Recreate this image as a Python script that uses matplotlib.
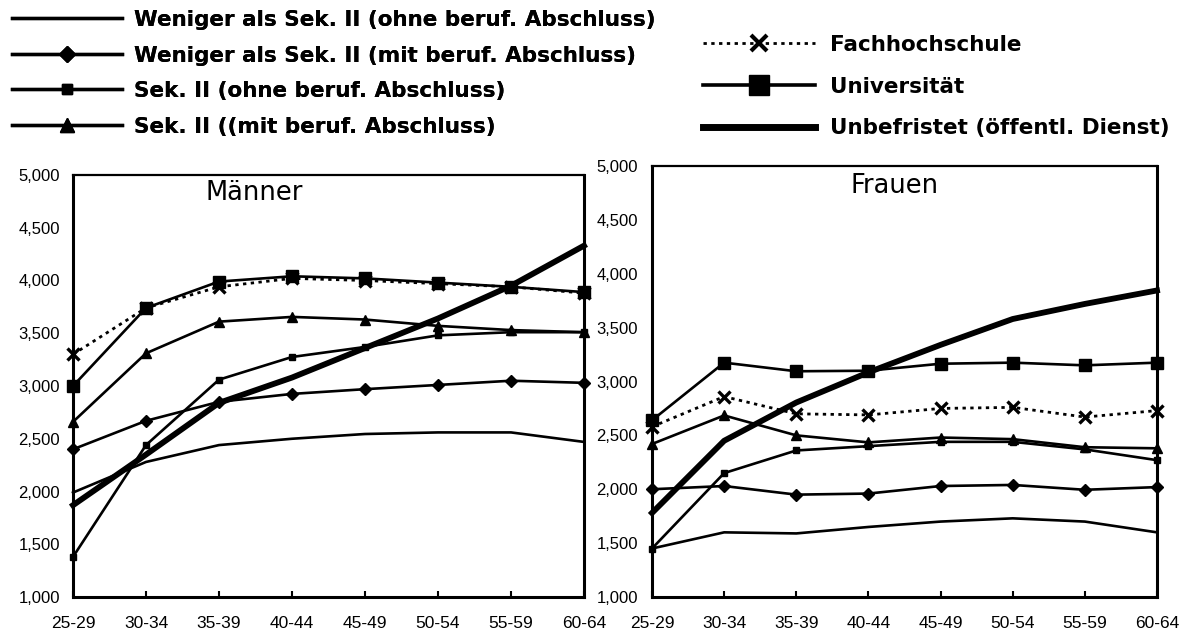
import matplotlib
matplotlib.use("Agg")
import matplotlib.pyplot as plt
from matplotlib.lines import Line2D

# ---- data ----
age_groups = ["25-29", "30-34", "35-39", "40-44", "45-49", "50-54", "55-59", "60-64"]
y_ticks = [1000, 1500, 2000, 2500, 3000, 3500, 4000, 4500, 5000]
y_tick_labels = ["1,000", "1,500", "2,000", "2,500", "3,000", "3,500", "4,000", "4,500", "5,000"]

series_names = [
    "Weniger als Sek. II (ohne beruf. Abschluss)",
    "Weniger als Sek. II (mit beruf. Abschluss)",
    "Sek. II (ohne beruf. Abschluss)",
    "Sek. II ((mit beruf. Abschluss)",
    "Fachhochschule",
    "Universität",
    "Unbefristet (öffentl. Dienst)",
]

# Männer
m_weniger_ohne = [1990, 2280, 2440, 2500, 2545, 2560, 2560, 2470]
m_weniger_mit = [2400, 2670, 2850, 2925, 2970, 3010, 3050, 3030]
m_sek2_ohne = [1380, 2440, 3060, 3275, 3370, 3480, 3510, 3510]
m_sek2_mit = [2660, 3310, 3610, 3655, 3630, 3570, 3530, 3510]
m_fh = [3300, 3740, 3940, 4020, 4000, 3970, 3940, 3880]
m_uni = [3000, 3740, 3990, 4040, 4020, 3980, 3940, 3890]
m_unbefristet = [1870, 2350, 2840, 3080, 3360, 3640, 3950, 4330]

# Frauen
f_weniger_ohne = [1450, 1600, 1590, 1650, 1700, 1730, 1700, 1600]
f_weniger_mit = [2000, 2030, 1950, 1960, 2030, 2040, 1995, 2020]
f_sek2_ohne = [1450, 2150, 2360, 2400, 2440, 2440, 2370, 2270]
f_sek2_mit = [2420, 2685, 2500, 2435, 2480, 2465, 2390, 2380]
f_fh = [2580, 2860, 2700, 2690, 2750, 2760, 2670, 2730]
f_uni = [2640, 3175, 3095, 3100, 3165, 3175, 3150, 3175]
f_unbefristet = [1780, 2450, 2805, 3085, 3340, 3580, 3720, 3845]

# ---- styles ----
styles = [
    dict(linestyle="-", linewidth=1.9, marker=None),
    dict(linestyle="-", linewidth=1.9, marker="D", markersize=6),
    dict(linestyle="-", linewidth=1.9, marker="s", markersize=5),
    dict(linestyle="-", linewidth=1.9, marker="^", markersize=7),
    dict(linestyle=(0, (1.2, 1.6)), linewidth=2.0, marker="x", markersize=8, markeredgewidth=2.4),
    dict(linestyle="-", linewidth=1.9, marker="s", markersize=9),
    dict(linestyle="-", linewidth=4.2, marker=None),
]
legend_styles = [
    dict(linestyle="-", linewidth=2.4, marker=None),
    dict(linestyle="-", linewidth=2.4, marker="D", markersize=8),
    dict(linestyle="-", linewidth=2.4, marker="s", markersize=7),
    dict(linestyle="-", linewidth=2.4, marker="^", markersize=10),
    dict(linestyle=(0, (1.2, 1.6)), linewidth=2.0, marker="x", markersize=12, markeredgewidth=3),
    dict(linestyle="-", linewidth=2.6, marker="s", markersize=15),
    dict(linestyle="-", linewidth=5.0, marker=None),
]

fig = plt.figure(figsize=(11.84, 6.37), dpi=100)
fig.patch.set_facecolor("white")

W, H = 1184.0, 637.0
ax_m = fig.add_axes([73 / W, 1 - 597 / H, (584 - 73) / W, (597 - 175) / H])
ax_f = fig.add_axes([652 / W, 1 - 597 / H, (1157 - 652) / W, (597 - 166) / H])

x = list(range(len(age_groups)))

def draw(ax, data, title, tx, ty, ypad):
    for vals, st in zip(data, styles):
        ax.plot(x, vals, color="black", clip_on=False, zorder=3, **st)
    ax.set_xlim(0, len(age_groups) - 1)
    ax.set_ylim(1000, 5000)
    ax.set_xticks(x)
    ax.set_xticklabels(age_groups, fontsize=12.5, family="Liberation Sans")
    ax.set_yticks(y_ticks)
    ax.set_yticklabels(y_tick_labels, fontsize=12, family="Liberation Sans")
    ax.tick_params(axis="x", direction="in", length=4, width=1.5, pad=14)
    ax.tick_params(axis="y", length=0, pad=ypad)
    for s in ["left", "right", "bottom"]:
        ax.spines[s].set_linewidth(2.2)
    ax.spines["top"].set_linewidth(1.6)
    ax.text(tx, ty, title, transform=ax.transAxes, fontsize=18.5,
            ha="center", va="center", family="DejaVu Sans")

draw(ax_m, [m_weniger_ohne, m_weniger_mit, m_sek2_ohne, m_sek2_mit, m_fh, m_uni, m_unbefristet],
     "Männer", 0.354, 0.957, 9.5)
draw(ax_f, [f_weniger_ohne, f_weniger_mit, f_sek2_ohne, f_sek2_mit, f_fh, f_uni, f_unbefristet],
     "Frauen", 0.481, 0.954, 10)

handles = [Line2D([], [], color="black", **st) for st in legend_styles]

leg_font = dict(family="DejaVu Sans", weight="bold", size=15.5)
leg1 = fig.legend(handles[:4], series_names[:4], loc="upper left",
                  bbox_to_anchor=(12 / W, 1 - 10 / H), frameon=False, prop=leg_font,
                  handlelength=5.1, handletextpad=0.55, labelspacing=0.72,
                  borderpad=0, borderaxespad=0)
leg2 = fig.legend(handles[4:], series_names[4:], loc="upper left",
                  bbox_to_anchor=(703 / W, 1 - 35 / H), frameon=False, prop=leg_font,
                  handlelength=5.2, handletextpad=0.72, labelspacing=1.0,
                  borderpad=0, borderaxespad=0)
fig.add_artist(leg1)

fig.savefig("out.png", dpi=100, facecolor="white")
